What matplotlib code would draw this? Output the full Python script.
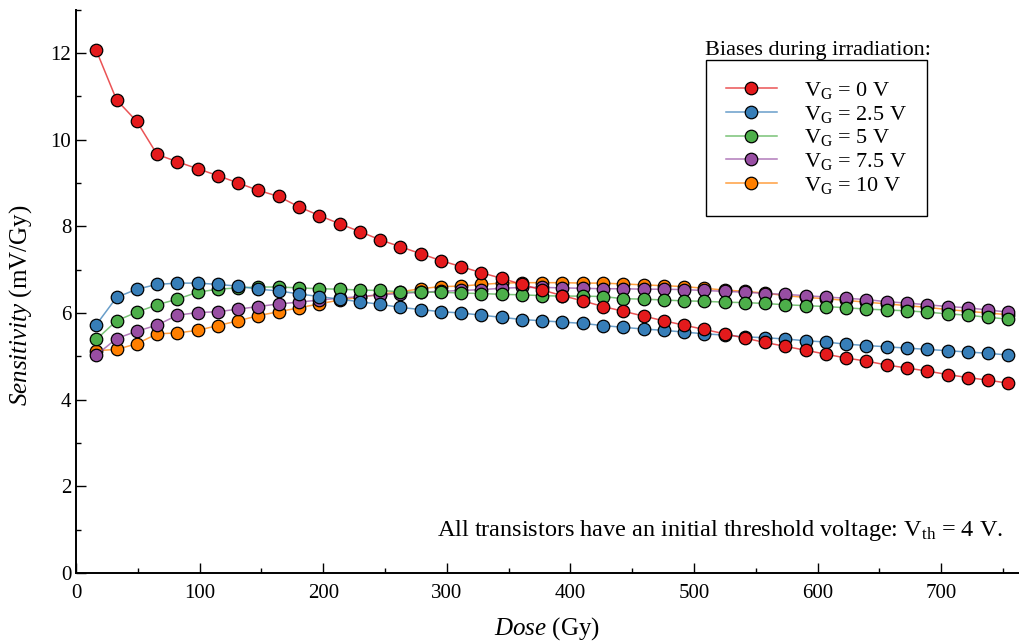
import matplotlib
matplotlib.use('Agg')
import matplotlib.pyplot as plt
from matplotlib.colors import to_rgba
from matplotlib.ticker import MultipleLocator

plt.rcParams['font.family'] = ['Liberation Serif', 'DejaVu Serif']
plt.rcParams['mathtext.fontset'] = 'custom'
plt.rcParams['mathtext.rm'] = 'Liberation Serif'
plt.rcParams['mathtext.it'] = 'Liberation Serif:italic'

# Dose steps (Gy)
dose = [16.4, 32.8, 49.2, 65.6, 82.0, 98.4, 114.8, 131.2, 147.6, 164.0,
        180.4, 196.8, 213.2, 229.6, 246.0, 262.4, 278.8, 295.2, 311.6, 328.0,
        344.4, 360.8, 377.2, 393.6, 410.0, 426.4, 442.8, 459.2, 475.6, 492.0,
        508.4, 524.8, 541.2, 557.6, 574.0, 590.4, 606.8, 623.2, 639.6, 656.0,
        672.4, 688.8, 705.2, 721.6, 738.0, 754.4]

# Sensitivity (mV/Gy) for each gate bias
vg0 = [12.06, 10.92, 10.42, 9.66, 9.49, 9.33, 9.17, 9.00, 8.83, 8.69,
       8.45, 8.25, 8.06, 7.88, 7.69, 7.53, 7.37, 7.21, 7.07, 6.93,
       6.80, 6.66, 6.53, 6.40, 6.28, 6.15, 6.04, 5.93, 5.82, 5.72,
       5.62, 5.52, 5.42, 5.32, 5.23, 5.14, 5.05, 4.96, 4.89, 4.80,
       4.73, 4.66, 4.58, 4.51, 4.45, 4.38]
vg25 = [5.73, 6.36, 6.55, 6.66, 6.69, 6.69, 6.66, 6.62, 6.55, 6.51,
        6.44, 6.38, 6.32, 6.26, 6.20, 6.13, 6.08, 6.03, 6.00, 5.95,
        5.90, 5.85, 5.82, 5.79, 5.76, 5.71, 5.67, 5.63, 5.60, 5.56,
        5.52, 5.49, 5.45, 5.43, 5.40, 5.36, 5.33, 5.28, 5.25, 5.22,
        5.19, 5.16, 5.13, 5.10, 5.07, 5.03]
vg5 = [5.39, 5.82, 6.02, 6.19, 6.32, 6.48, 6.55, 6.58, 6.60, 6.60,
       6.58, 6.56, 6.55, 6.53, 6.52, 6.49, 6.48, 6.48, 6.46, 6.45,
       6.43, 6.42, 6.40, 6.39, 6.39, 6.38, 6.33, 6.32, 6.30, 6.28,
       6.27, 6.25, 6.24, 6.22, 6.19, 6.17, 6.15, 6.12, 6.09, 6.07,
       6.05, 6.02, 5.98, 5.95, 5.90, 5.86]
vg75 = [5.03, 5.41, 5.58, 5.72, 5.95, 6.01, 6.03, 6.09, 6.15, 6.21,
        6.25, 6.30, 6.34, 6.38, 6.42, 6.45, 6.48, 6.50, 6.52, 6.54,
        6.57, 6.59, 6.59, 6.58, 6.57, 6.56, 6.56, 6.55, 6.55, 6.54,
        6.52, 6.50, 6.48, 6.45, 6.43, 6.40, 6.37, 6.34, 6.31, 6.26,
        6.23, 6.19, 6.15, 6.12, 6.07, 6.02]
vg10 = [5.13, 5.16, 5.29, 5.52, 5.54, 5.60, 5.71, 5.82, 5.94, 6.03,
        6.12, 6.21, 6.30, 6.36, 6.43, 6.49, 6.56, 6.61, 6.62, 6.66,
        6.69, 6.70, 6.70, 6.70, 6.69, 6.69, 6.67, 6.65, 6.63, 6.61,
        6.57, 6.53, 6.50, 6.46, 6.40, 6.36, 6.33, 6.29, 6.25, 6.21,
        6.17, 6.13, 6.08, 6.04, 6.00, 5.96]

series = [vg0, vg25, vg5, vg75, vg10]
labels = [r'V$_\mathrm{G}$ = 0 V', r'V$_\mathrm{G}$ = 2.5 V', r'V$_\mathrm{G}$ = 5 V',
          r'V$_\mathrm{G}$ = 7.5 V', r'V$_\mathrm{G}$ = 10 V']
colors = ['#e41a1c', '#377eb8', '#4daf4a', '#984ea3', '#ff7f00']

fig = plt.figure(figsize=(10.19, 6.43), dpi=100)
ax = fig.add_axes([0.0746, 0.1089, 0.9254, 0.876])

# first series ends up on top
for i, (y, lab, c) in enumerate(zip(series, labels, colors)):
    ax.plot(dose, y, color=to_rgba(c, 0.75), lw=1.1, marker='o', ms=9,
            mfc=c, mec='black', mew=0.9, label=lab, zorder=10 - i)

ax.set_xlim(0, 763)
ax.set_ylim(0, 13)
ax.xaxis.set_major_locator(MultipleLocator(100))
ax.xaxis.set_minor_locator(MultipleLocator(50))
ax.yaxis.set_major_locator(MultipleLocator(2))
ax.yaxis.set_minor_locator(MultipleLocator(1))
ax.tick_params(which='both', direction='in', labelsize=15, width=1)
ax.tick_params(which='major', length=7)
ax.tick_params(which='minor', length=3.5)
ax.tick_params(axis='x', pad=8)
ax.spines['top'].set_visible(False)
ax.spines['right'].set_visible(False)
for s in ('left', 'bottom'):
    ax.spines[s].set_linewidth(1.4)

ax.set_xlabel(r'$\mathit{Dose}$ (Gy)', fontsize=18)
ax.set_ylabel(r'$\mathit{Sensitivity}$ (mV/Gy)', fontsize=18)
ax.xaxis.set_label_coords(0.5, -0.075)
ax.yaxis.set_label_coords(-0.045, 0.476)

leg = ax.legend(loc='upper left', bbox_to_anchor=(0.668, 0.9107), borderaxespad=0,
                fontsize=16, fancybox=False, edgecolor='black', framealpha=1,
                handlelength=2.3, handletextpad=1.2, labelspacing=0.12,
                borderpad=0.9)
leg.get_frame().set_linewidth(1.0)
ax.text(0.787, 0.9196, 'Biases during irradiation:', transform=ax.transAxes,
        ha='center', va='baseline', fontsize=16)

ax.text(0.983, 0.066, r'All transistors have an initial threshold voltage: V$_\mathrm{th}$ = 4 V.',
        transform=ax.transAxes, ha='right', va='baseline', fontsize=17.5)

fig.savefig('out.png', dpi=100)
